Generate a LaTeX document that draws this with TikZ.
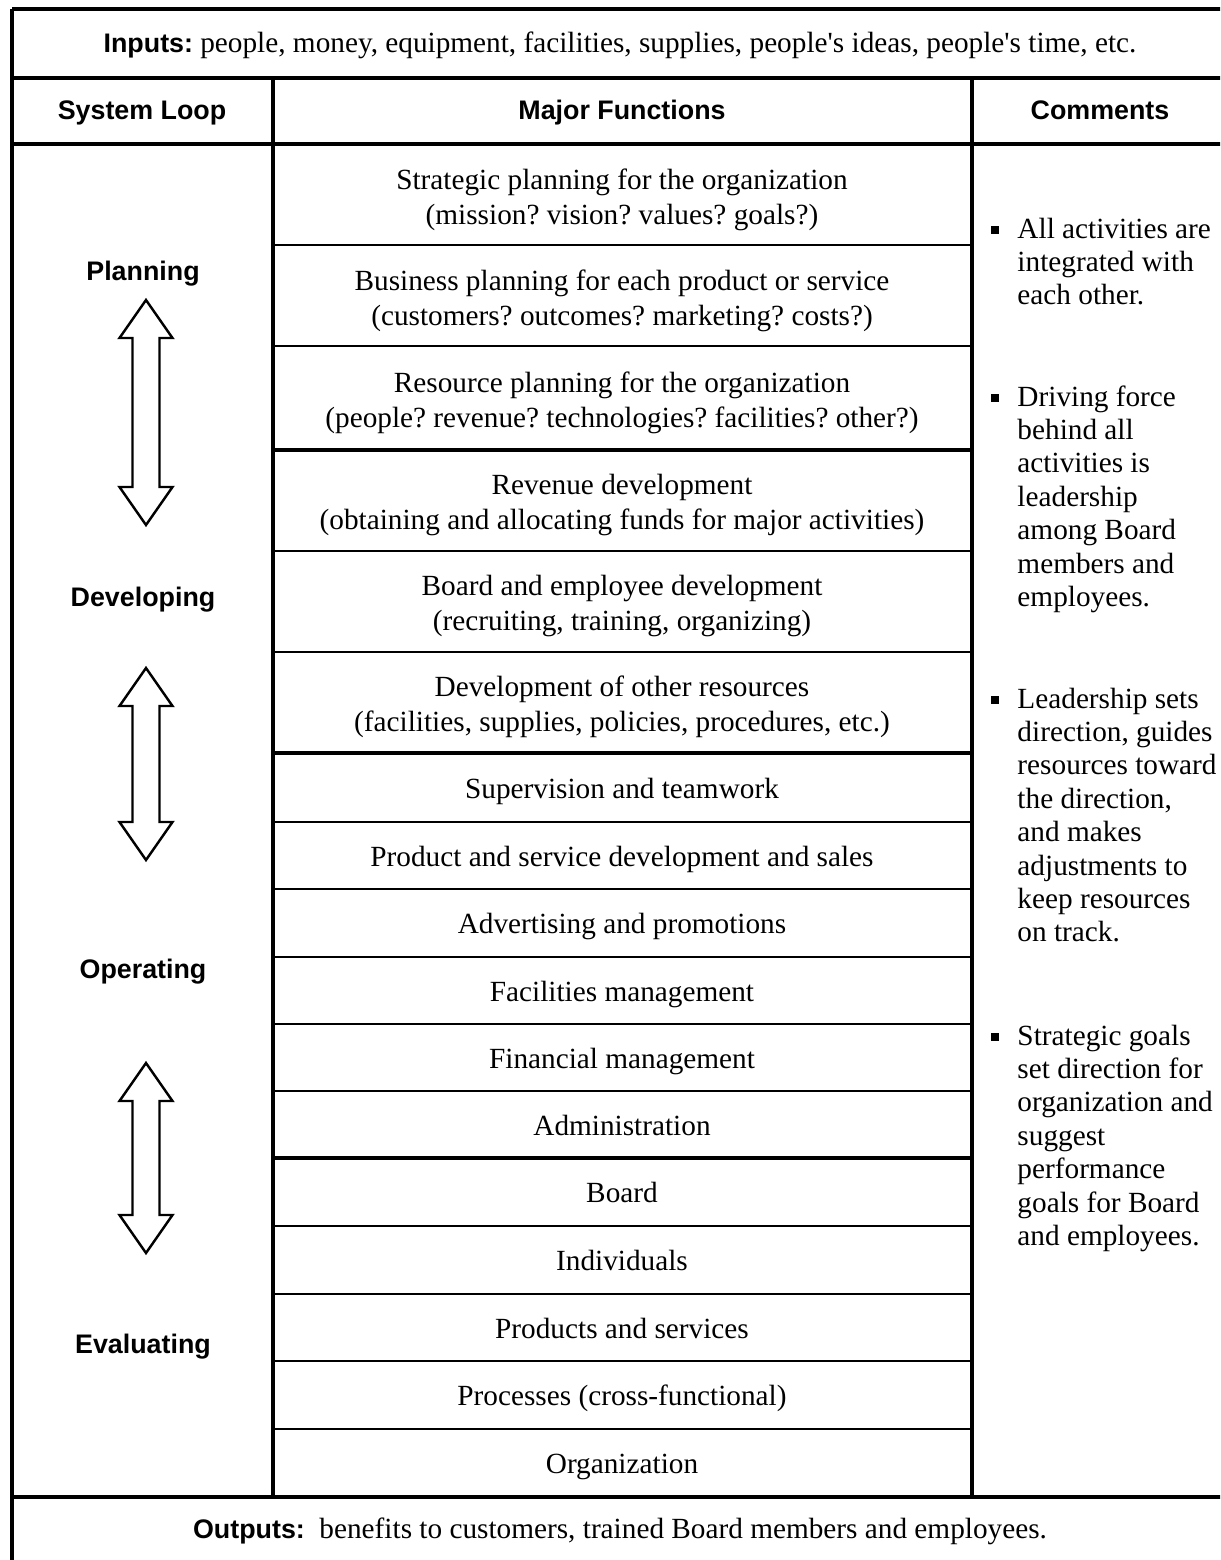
\documentclass[tikz,border=0pt]{standalone}
\usepackage{fontspec}
\setmainfont{Liberation Serif}
\newfontfamily\headfont{Liberation Sans}
\newcommand{\headtxt}[1]{{\headfont\bfseries\fontsize{11}{13}\selectfont #1}}
\frenchspacing
\begin{document}
\begin{tikzpicture}[x=0.41pt,y=-0.41pt]
\tikzstyle{cell}=[inner sep=0pt, font=\fontsize{12}{14.3}\selectfont, text height=8.5pt, text depth=2.5pt]
\tikzstyle{cellii}=[inner sep=0pt, align=center, font=\fontsize{12}{14.3}\selectfont]
\tikzstyle{line}=[inner sep=0pt, font=\fontsize{12}{14}\selectfont, text height=8.5pt, text depth=2.5pt]
\tikzstyle{head}=[inner sep=0pt, font=\headfont\bfseries\fontsize{11}{13}\selectfont, text height=8pt, text depth=2pt]
\tikzstyle{note}=[anchor=base west, inner sep=0pt, font=\fontsize{12}{13.7}\selectfont]
\tikzstyle{bullet}=[rectangle, fill=black, inner sep=0pt, minimum size=3.1pt]
\tikzstyle{frame}=[line width=1.6pt]
\tikzstyle{thick rule}=[line width=1.4pt]
\tikzstyle{thin rule}=[line width=0.7pt]
\tikzstyle{loop}=[line width=1pt, fill=white, line join=miter]

\useasboundingbox (0,0) rectangle (1220,1560);
\clip (0,0) rectangle (1220,1560);

% frame and columns
\draw[frame] (12,9) -- (1260,9);
\draw[frame] (12,9) -- (12,1580);
\draw[frame] (12,78) -- (1260,78);
\draw[frame] (12,144) -- (1260,144);
\draw[frame] (12,1497) -- (1260,1497);
\draw[frame] (273,78) -- (273,1497);
\draw[frame] (972,78) -- (972,1497);

% rows of the middle column
\foreach \y in {245,346,551,652,822,889,957,1024,1091,1226,1294,1361,1429}
  \draw[thin rule] (273,\y) -- (972,\y);
\foreach \y in {450,753,1158}
  \draw[thick rule] (273,\y) -- (972,\y);

% inputs and outputs
\node[line] (inputs) at (620,45) {\headtxt{Inputs:} people, money, equipment, facilities, supplies, people\textquotesingle s ideas, people\textquotesingle s time, etc.};
\node[line] (outputs) at (620,1531) {\headtxt{Outputs:}\ \ benefits to customers, trained Board members and employees.};

% headers
\node[head] (loophead) at (142,112) {System Loop};
\node[head] (funchead) at (622,112) {Major Functions};
\node[head] (commhead) at (1100,112) {Comments};

% system loop
\node[head] (planning) at (143,273) {Planning};
\node[head] (developing) at (143,599) {Developing};
\node[head] (operating) at (143,971) {Operating};
\node[head] (evaluating) at (143,1346) {Evaluating};

\foreach \t/\b in {300/525, 668/860, 1063/1253}
  \draw[loop] (119.5,\t+38) -- (146,\t) -- (172.5,\t+38) -- (159.5,\t+38)
    -- (159.5,\b-38) -- (172.5,\b-38) -- (146,\b) -- (119.5,\b-38)
    -- (132.5,\b-38) -- (132.5,\t+38) -- cycle;

% major functions
\node[cellii] (strat) at (622,200) {Strategic planning for the organization\\(mission? vision? values? goals?)};
\node[cellii] (business) at (622,301) {Business planning for each product or service\\(customers? outcomes? marketing? costs?)};
\node[cellii] (resource) at (622,403) {Resource planning for the organization\\(people? revenue? technologies? facilities? other?)};
\node[cellii] (revenue) at (622,505) {Revenue development\\(obtaining and allocating funds for major activities)};
\node[cellii] (boarddev) at (622,606) {Board and employee development\\(recruiting, training, organizing)};
\node[cellii] (otherres) at (622,707) {Development of other resources\\(facilities, supplies, policies, procedures, etc.)};
\node[cell] (superv) at (622,791) {Supervision and teamwork};
\node[cell] (product) at (622,859) {Product and service development and sales};
\node[cell] (advert) at (622,926.5) {Advertising and promotions};
\node[cell] (facil) at (622,994) {Facilities management};
\node[cell] (finance) at (622,1061) {Financial management};
\node[cell] (admin) at (622,1128) {Administration};
\node[cell] (board) at (622,1195.5) {Board};
\node[cell] (indiv) at (622,1263.5) {Individuals};
\node[cell] (products) at (622,1331) {Products and services};
\node[cell] (process) at (622,1398.5) {Processes (cross-functional)};
\node[cell] (org) at (622,1466.5) {Organization};

% comments
\node[bullet] (b1) at (995,230) {};
\node[note] (c1) at (1017,238) {\begin{tabular}[t]{@{}l@{}}All activities are\\integrated with\\each other.\end{tabular}};
\node[bullet] (b2) at (995,398) {};
\node[note] (c2) at (1017,406) {\begin{tabular}[t]{@{}l@{}}Driving force\\behind all\\activities is\\leadership\\among Board\\members and\\employees.\end{tabular}};
\node[bullet] (b3) at (995,700) {};
\node[note] (c3) at (1017,708) {\begin{tabular}[t]{@{}l@{}}Leadership sets\\direction, guides\\resources toward\\the direction,\\and makes\\adjustments to\\keep resources\\on track.\end{tabular}};
\node[bullet] (b4) at (995,1037) {};
\node[note] (c4) at (1017,1045) {\begin{tabular}[t]{@{}l@{}}Strategic goals\\set direction for\\organization and\\suggest\\performance\\goals for Board\\and employees.\end{tabular}};
\end{tikzpicture}
\end{document}
